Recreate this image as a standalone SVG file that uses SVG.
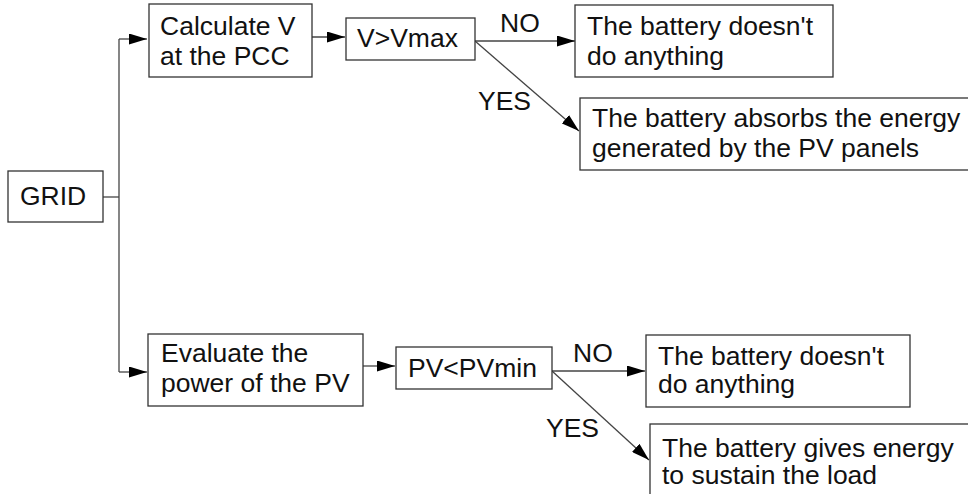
<svg xmlns="http://www.w3.org/2000/svg" width="968" height="494" viewBox="0 0 968 494">
<style>
.box{fill:#fff;stroke:#333;stroke-width:1.3}
.t{font-family:"Liberation Sans",Arial,sans-serif;font-size:26.5px;fill:#111}
.c{fill:none;stroke:#444;stroke-width:1.3}
</style>
<defs>
<marker id="ah" markerUnits="userSpaceOnUse" markerWidth="18" markerHeight="11" refX="18" refY="5.5" orient="auto">
<path d="M0,0 L18,5.5 L0,11 z" fill="#000"/>
</marker>
</defs>
<rect width="968" height="494" fill="#fff"/>
<g id="connectors">
<path class="c" d="M103,197 H119"/>
<path class="c" d="M119,39 V372"/>
<path class="c" d="M119,39 H147" marker-end="url(#ah)"/>
<path class="c" d="M119,372 H147" marker-end="url(#ah)"/>
<path class="c" d="M312,37 H345" marker-end="url(#ah)"/>
<path class="c" d="M475,41 H575" marker-end="url(#ah)"/>
<path class="c" d="M475,41 L579,131" marker-end="url(#ah)"/>
<path class="c" d="M363,366 H395" marker-end="url(#ah)"/>
<path class="c" d="M552,371 H645" marker-end="url(#ah)"/>
<path class="c" d="M552,371 L649,460" marker-end="url(#ah)"/>
<text class="t" x="500" y="32">NO</text>
<text class="t" x="478" y="110">YES</text>
<text class="t" x="573" y="362">NO</text>
<text class="t" x="546" y="437">YES</text>
</g>
<g id="grid">
<rect class="box" x="8" y="171" width="95" height="51"/>
<text class="t" x="20" y="205">GRID</text>
</g>
<g id="calc">
<rect class="box" x="149" y="4" width="163" height="73"/>
<text class="t" x="160" y="35">Calculate V</text>
<text class="t" x="160" y="65">at the PCC</text>
</g>
<g id="vmax">
<rect class="box" x="346" y="18" width="129" height="42"/>
<text class="t" x="357" y="47">V&gt;Vmax</text>
</g>
<g id="nothing1">
<rect class="box" x="575" y="5" width="258" height="72"/>
<text class="t" x="587" y="35">The battery doesn't</text>
<text class="t" x="587" y="65">do anything</text>
</g>
<g id="absorbs">
<rect class="box" x="580" y="98" width="400" height="72"/>
<text class="t" x="592" y="127">The battery absorbs the energy</text>
<text class="t" x="592" y="157">generated by the PV panels</text>
</g>
<g id="evaluate">
<rect class="box" x="148" y="334" width="215" height="72"/>
<text class="t" x="161" y="362">Evaluate the</text>
<text class="t" x="161" y="392">power of the PV</text>
</g>
<g id="pvmin">
<rect class="box" x="396" y="347" width="156" height="42"/>
<text class="t" x="408" y="377">PV&lt;PVmin</text>
</g>
<g id="nothing2">
<rect class="box" x="646" y="335" width="264" height="72"/>
<text class="t" x="658" y="365">The battery doesn't</text>
<text class="t" x="658" y="393">do anything</text>
</g>
<g id="gives">
<rect class="box" x="650" y="424" width="330" height="90"/>
<text class="t" x="662" y="457">The battery gives energy</text>
<text class="t" x="662" y="484">to sustain the load</text>
</g>
</svg>
